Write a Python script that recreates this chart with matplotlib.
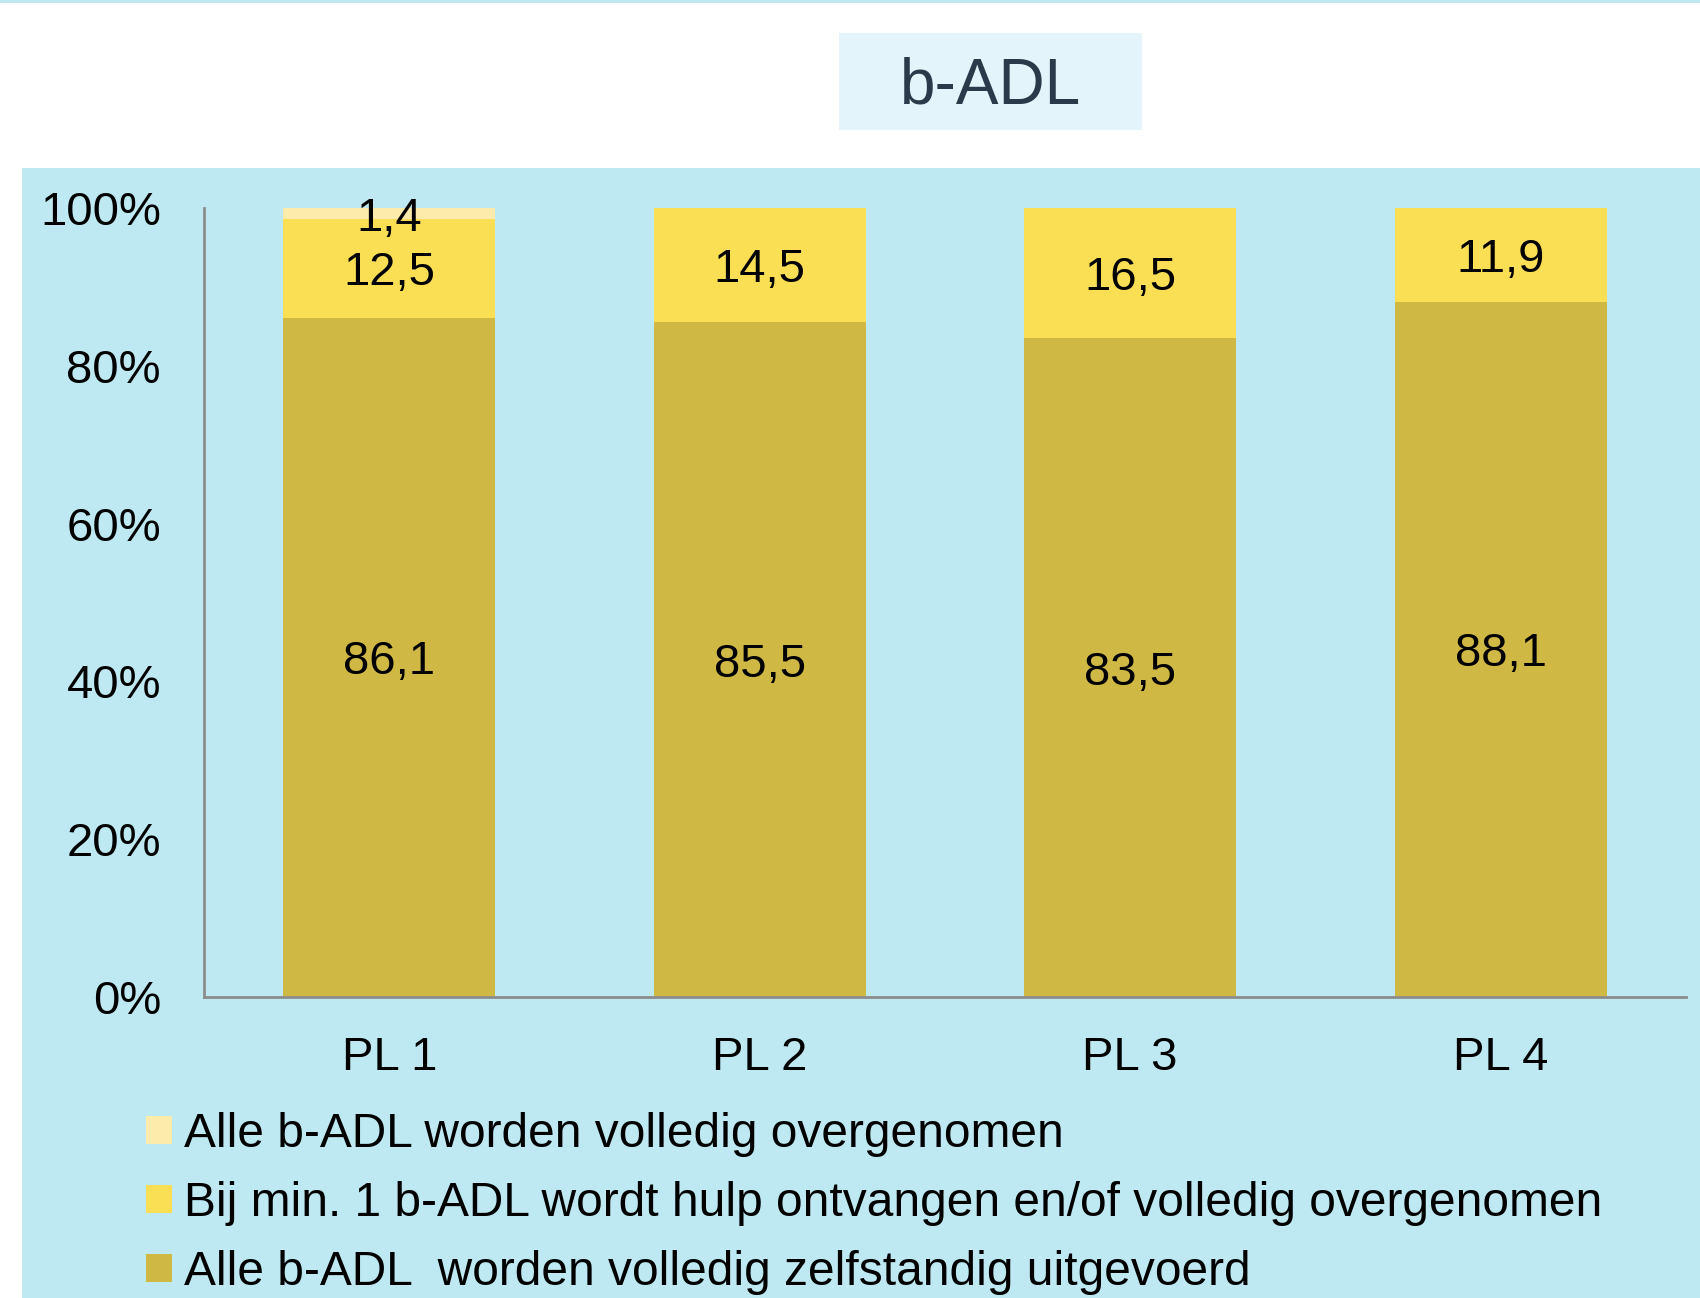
import matplotlib
matplotlib.use('Agg')
import matplotlib.pyplot as plt
from matplotlib.patches import Rectangle, Patch
import numpy as np

plt.rcParams['font.family'] = ['Liberation Sans', 'DejaVu Sans']

categories = ['PL 1', 'PL 2', 'PL 3', 'PL 4']
zelfstandig = [86.1, 85.5, 83.5, 88.1]
hulp = [12.5, 14.5, 16.5, 11.9]
overgenomen = [1.4, 0.0, 0.0, 0.0]

legend_labels = [
    'Alle b-ADL worden volledig overgenomen',
    'Bij min. 1 b-ADL wordt hulp ontvangen en/of volledig overgenomen',
    'Alle b-ADL  worden volledig zelfstandig uitgevoerd',
]

C_OLIVE = '#cfb844'
C_YELLOW = '#fadf55'
C_LIGHT = '#fdebab'
C_BG = '#bfe9f2'
C_AXIS = '#8c8c8c'
FS = 34

W, H = 1700, 1298
fig = plt.figure(figsize=(W / 100, H / 100), dpi=100)
fig.patch.set_facecolor('white')

# cyan panel, top strip, title box (drawn behind the axes)
for x0, y0, w, h, c in [(22, 168, W - 22, H - 168, C_BG),
                        (0, 0, W, 3, C_BG),
                        (839, 33, 303, 97, '#e3f5fa')]:
    fig.patches.append(Rectangle((x0 / W, 1 - (y0 + h) / H), w / W, h / H,
                                 transform=fig.transFigure, facecolor=c,
                                 edgecolor='none', zorder=-5))
fig.text(991 / W, 1 - 86 / H, 'b-ADL', fontsize=46, color='#2b3a4a',
         ha='center', va='center')

ax = fig.add_axes([204 / W, 1 - 997 / H, (1686 - 204) / W, (997 - 208) / H])
ax.set_facecolor('none')
ax.set_zorder(2)

x = np.arange(len(categories))
bw = 0.573
ax.bar(x, zelfstandig, bw, color=C_OLIVE, zorder=2)
ax.bar(x, hulp, bw, bottom=zelfstandig, color=C_YELLOW, zorder=2)
bottom3 = [a + b for a, b in zip(zelfstandig, hulp)]
ax.bar(x, overgenomen, bw, bottom=bottom3, color=C_LIGHT, zorder=2)

def fmt(v):
    return ('%.1f' % v).replace('.', ',')

for i in range(len(categories)):
    ax.text(x[i], zelfstandig[i] / 2, fmt(zelfstandig[i]), ha='center',
            va='center_baseline', fontsize=FS, zorder=3)
    ax.text(x[i], zelfstandig[i] + hulp[i] / 2, fmt(hulp[i]), ha='center',
            va='center_baseline', fontsize=FS, zorder=3)
    if overgenomen[i] > 0:
        ax.text(x[i], bottom3[i] + overgenomen[i] / 2, fmt(overgenomen[i]),
                ha='center', va='center_baseline', fontsize=FS, zorder=3)

ax.set_xlim(-0.5, len(categories) - 0.5)
ax.set_ylim(0, 100)
ax.set_yticks(np.arange(0, 101, 20))
ax.set_yticklabels(['%d%%' % v for v in range(0, 101, 20)])
ax.set_xticks(x)
ax.set_xticklabels(categories)
ax.tick_params(axis='y', length=0, pad=31, labelsize=FS)
ax.tick_params(axis='x', length=0, pad=28, labelsize=FS)
for s in ['top', 'right']:
    ax.spines[s].set_visible(False)
for s in ['left', 'bottom']:
    ax.spines[s].set_color(C_AXIS)
    ax.spines[s].set_linewidth(2)

handles = [Patch(facecolor=C_LIGHT), Patch(facecolor=C_YELLOW),
           Patch(facecolor=C_OLIVE)]
fig.legend(handles, legend_labels, loc='upper left',
           bbox_to_anchor=(146 / W, 1 - 1112 / H), frameon=False,
           fontsize=34.5, handlelength=0.55, handleheight=0.55,
           handletextpad=0.25, labelspacing=0.5, borderpad=0,
           borderaxespad=0)

fig.savefig('out.png', dpi=100)
